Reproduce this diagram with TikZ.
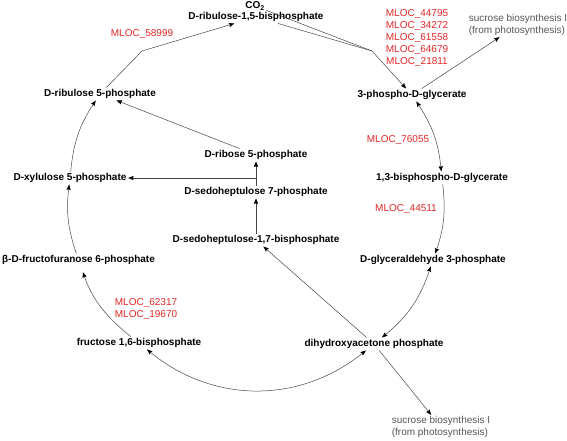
\documentclass[tikz,border=0pt]{standalone}
\usepackage{fontspec}
\setmainfont{Liberation Sans}
\usetikzlibrary{arrows.meta}
\definecolor{mred}{RGB}{228,38,38}
\definecolor{pwgray}{RGB}{85,85,85}
\definecolor{lncol}{RGB}{70,70,70}
\begin{document}
\begin{tikzpicture}[x=1pt,y=-1pt,
  met/.style={font=\fontsize{10}{12}\selectfont\bfseries, inner sep=1.5pt, text height=7.5pt, text depth=2pt},
  enz/.style={font=\fontsize{10}{12}\selectfont, text=mred, align=center, inner sep=0pt},
  pw/.style={font=\fontsize{10}{11.5}\selectfont, text=pwgray, align=left, inner sep=1.5pt},
  conn/.style={draw=lncol, line width=0.5pt},
  tip/.style={-{Stealth[length=5.5pt,width=4.2pt,inset=0.8pt,color=black]}},
  arr/.style={conn, tip},
  barr/.style={conn, {Stealth[length=5.5pt,width=4.2pt,inset=0.8pt,color=black]}-{Stealth[length=5.5pt,width=4.2pt,inset=0.8pt,color=black]}}
]
\useasboundingbox (0,0) rectangle (567,440);

% metabolites
\node[met] (CO2)  at (255,6)   {CO\textsubscript{2}};
\node[met] (R15BP) at (256,17) {D-ribulose-1,5-bisphosphate};
\node[met] (Ru5P) at (100,94)  {D-ribulose 5-phosphate};
\node[met] (PG3)  at (412,95)  {3-phospho-D-glycerate};
\node[met] (BPG)  at (442,178) {1,3-bisphospho-D-glycerate};
\node[met] (GAP)  at (433,260) {D-glyceraldehyde 3-phosphate};
\node[met] (DHAP) at (374,344) {dihydroxyacetone phosphate};
\node[met] (FBP)  at (139,343) {fructose 1,6-bisphosphate};
\node[met] (F6P)  at (78.5,260) {β-D-fructofuranose 6-phosphate};
\node[met] (Xu5P) at (70,178)  {D-xylulose 5-phosphate};
\node[met] (R5P)  at (256,155) {D-ribose 5-phosphate};
\node[met] (S7P)  at (256,192) {D-sedoheptulose 7-phosphate};
\node[met] (SBP)  at (256,240) {D-sedoheptulose-1,7-bisphosphate};

% pathway links
\node[pw] (suc1) at (518,25)  {sucrose biosynthesis I\\(from photosynthesis)};
\node[pw] (suc2) at (441,427) {sucrose biosynthesis I\\(from photosynthesis)};

% enzymes
\node[enz] (e1) at (142,34)  {MLOC\_58999};
\node[enz] (e2) at (417,38)  {MLOC\_44795\\MLOC\_34272\\MLOC\_61558\\MLOC\_64679\\MLOC\_21811};
\node[enz] (e3) at (398,140) {MLOC\_76055};
\node[enz] (e4) at (406,209) {MLOC\_44511};
\node[enz] (e5) at (146,309) {MLOC\_62317\\MLOC\_19670};

% connectors
\coordinate (k1) at (142,51);
\draw[arr] (Ru5P) -- (k1) -- (R15BP);
\coordinate (k2) at (372,51);
\draw[conn] (CO2) -- (k2);
\draw[conn] (R15BP) -- (k2);
\draw[arr] (k2) -- (PG3);
\draw[arr] (PG3) -- (suc1);

\draw[barr] (PG3) to[bend left=13.7] (BPG);
\draw[arr]  (BPG) to[bend left=12.7] (GAP);
\draw[barr] (GAP) to[bend left=15.9] (DHAP);
\draw[barr] (DHAP) to[bend left=38.9] (FBP);
\draw[arr, shorten >=6pt]  (FBP) to[bend left=16] (F6P);
\draw[arr]  (F6P) to[bend left=12.7] (Xu5P);
\draw[arr]  (Xu5P) to[bend left=13.8] (Ru5P);

\draw[arr] (DHAP) -- (suc2);
\draw[arr] (DHAP) -- (SBP);
\draw[arr] (SBP) -- (S7P);
\coordinate (k3) at (S7P.north |- Xu5P.center);
\draw[conn] (S7P) -- (k3);
\draw[arr] (k3) -- (R5P);
\draw[arr] (k3) -- (Xu5P);
\draw[arr] (R5P) -- (Ru5P);
\end{tikzpicture}
\end{document}
